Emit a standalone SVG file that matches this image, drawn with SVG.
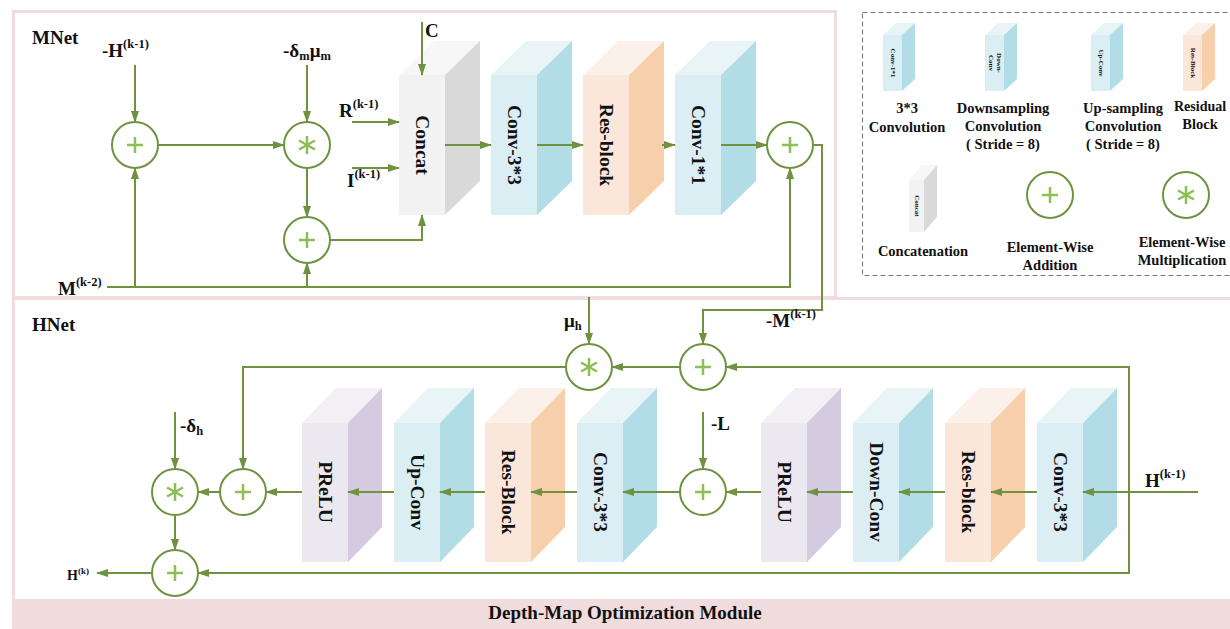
<svg xmlns="http://www.w3.org/2000/svg" width="1230" height="629" viewBox="0 0 1230 629">
<style>
text{font-family:"Liberation Serif","Times New Roman",serif;font-weight:bold;fill:#111}
.lbl{font-size:19px}
.sup{font-size:12.5px}
.blk{font-size:19.5px}
.leg{font-size:14.5px}
.tiny{font-size:7px}
.ln{fill:none;stroke:#6e9240;stroke-width:2}
.arr{marker-end:url(#ah)}
.cir{fill:#fff;stroke:#6e9240;stroke-width:2}
.sym{stroke:#8dbf55;stroke-width:2.5;fill:none}
.cf{fill:#daeef4}.cs{fill:#b2dce6}.ct{fill:#e9f4f7}
.rf{fill:#fbe6da}.rs{fill:#f7cfab}.rt{fill:#fcf0ea}
.gf{fill:#f2f2f2}.gs{fill:#d9d9d9}.gt{fill:#f7f7f7}
.pf{fill:#ebe8f0}.ps{fill:#d4cbe0}.pt{fill:#f2f0f5}
</style>
<defs>
<marker id="ah" markerWidth="12" markerHeight="10" refX="11" refY="5" orient="auto" markerUnits="userSpaceOnUse">
<path d="M0,1 L12,5 L0,9 z" fill="#6e9240"/>
</marker>
<g id="plus"><line class="sym" x1="-8" y1="0" x2="8" y2="0"/><line class="sym" x1="0" y1="-8" x2="0" y2="8"/></g>
<g id="star"><line class="sym" x1="0" y1="-9" x2="0" y2="9" stroke-width="3"/><line class="sym" x1="-8" y1="-4.5" x2="8" y2="4.5" stroke-width="3"/><line class="sym" x1="-8" y1="4.5" x2="8" y2="-4.5" stroke-width="3"/></g>
</defs>
<rect width="1230" height="629" fill="#fff"/>

<g id="frames">
<rect x="13.5" y="11.5" width="822" height="286" fill="none" stroke="#f0dcdc" stroke-width="3"/>
<rect x="13.5" y="298.5" width="1220" height="302" fill="none" stroke="#f0dcdc" stroke-width="3"/>
<rect x="12" y="600" width="1218" height="29" fill="#f0dcdc"/>
<text x="625" y="619" text-anchor="middle" class="lbl">Depth-Map Optimization Module</text>
<rect x="862.5" y="12.5" width="380" height="263" fill="none" stroke="#777" stroke-width="1" stroke-dasharray="5,3"/>
<text x="32" y="44" class="lbl">MNet</text>
<text x="32" y="331" class="lbl">HNet</text>
</g>

<g id="m-concat">
<polygon class="gt" points="399,75 434,41 480,41 445,75"/><polygon class="gs" points="445,75 480,41 480,181 445,215"/><rect class="gf" x="399" y="75" width="46" height="140"/>
<text class="blk" transform="translate(422,145) rotate(90)" text-anchor="middle" dominant-baseline="central">Concat</text>
</g>
<g id="m-conv33">
<polygon class="ct" points="491,75 526,41 572,41 537,75"/><polygon class="cs" points="537,75 572,41 572,181 537,215"/><rect class="cf" x="491" y="75" width="46" height="140"/>
<text class="blk" transform="translate(514,145) rotate(90)" text-anchor="middle" dominant-baseline="central">Conv-3*3</text>
</g>
<g id="m-res">
<polygon class="rt" points="583,75 618,41 664,41 629,75"/><polygon class="rs" points="629,75 664,41 664,181 629,215"/><rect class="rf" x="583" y="75" width="46" height="140"/>
<text class="blk" transform="translate(606,145) rotate(90)" text-anchor="middle" dominant-baseline="central">Res-block</text>
</g>
<g id="m-conv11">
<polygon class="ct" points="675,75 710,41 756,41 721,75"/><polygon class="cs" points="721,75 756,41 756,181 721,215"/><rect class="cf" x="675" y="75" width="46" height="140"/>
<text class="blk" transform="translate(698,145) rotate(90)" text-anchor="middle" dominant-baseline="central">Conv-1*1</text>
</g>

<g id="h-prelu1">
<polygon class="pt" points="302,423 336,388 382,388 348,423"/><polygon class="ps" points="348,423 382,388 382,527 348,562"/><rect class="pf" x="302" y="423" width="46" height="139"/>
<text class="blk" transform="translate(325,492) rotate(90)" text-anchor="middle" dominant-baseline="central">PReLU</text>
</g>
<g id="h-upconv">
<polygon class="ct" points="394,423 428,388 474,388 440,423"/><polygon class="cs" points="440,423 474,388 474,527 440,562"/><rect class="cf" x="394" y="423" width="46" height="139"/>
<text class="blk" transform="translate(417,492) rotate(90)" text-anchor="middle" dominant-baseline="central">Up-Conv</text>
</g>
<g id="h-res1">
<polygon class="rt" points="485,423 519,388 565,388 531,423"/><polygon class="rs" points="531,423 565,388 565,527 531,562"/><rect class="rf" x="485" y="423" width="46" height="139"/>
<text class="blk" transform="translate(508,492) rotate(90)" text-anchor="middle" dominant-baseline="central">Res-Block</text>
</g>
<g id="h-conv1">
<polygon class="ct" points="577,423 611,388 657,388 623,423"/><polygon class="cs" points="623,423 657,388 657,527 623,562"/><rect class="cf" x="577" y="423" width="46" height="139"/>
<text class="blk" transform="translate(600,492) rotate(90)" text-anchor="middle" dominant-baseline="central">Conv-3*3</text>
</g>
<g id="h-prelu2">
<polygon class="pt" points="761,423 795,388 841,388 807,423"/><polygon class="ps" points="807,423 841,388 841,527 807,562"/><rect class="pf" x="761" y="423" width="46" height="139"/>
<text class="blk" transform="translate(784,492) rotate(90)" text-anchor="middle" dominant-baseline="central">PReLU</text>
</g>
<g id="h-downconv">
<polygon class="ct" points="853,423 887,388 933,388 899,423"/><polygon class="cs" points="899,423 933,388 933,527 899,562"/><rect class="cf" x="853" y="423" width="46" height="139"/>
<text class="blk" transform="translate(876,492) rotate(90)" text-anchor="middle" dominant-baseline="central">Down-Conv</text>
</g>
<g id="h-res2">
<polygon class="rt" points="945,423 979,388 1025,388 991,423"/><polygon class="rs" points="991,423 1025,388 1025,527 991,562"/><rect class="rf" x="945" y="423" width="46" height="139"/>
<text class="blk" transform="translate(968,492) rotate(90)" text-anchor="middle" dominant-baseline="central">Res-block</text>
</g>
<g id="h-conv2">
<polygon class="ct" points="1037,423 1071,388 1117,388 1083,423"/><polygon class="cs" points="1083,423 1117,388 1117,527 1083,562"/><rect class="cf" x="1037" y="423" width="46" height="139"/>
<text class="blk" transform="translate(1060,492) rotate(90)" text-anchor="middle" dominant-baseline="central">Conv-3*3</text>
</g>

<g id="connectors">
<line class="ln arr" x1="135" y1="65" x2="135" y2="122"/>
<line class="ln arr" x1="158" y1="145" x2="284" y2="145"/>
<line class="ln arr" x1="307" y1="65" x2="307" y2="122"/>
<line class="ln arr" x1="307" y1="168" x2="307" y2="217"/>
<path class="ln arr" d="M107,287 H790 V168"/>
<line class="ln arr" x1="135" y1="287" x2="135" y2="168"/>
<line class="ln arr" x1="307" y1="287" x2="307" y2="263"/>
<path class="ln arr" d="M330,240 H422 V215"/>
<line class="ln arr" x1="352" y1="122" x2="399" y2="122"/>
<line class="ln arr" x1="352" y1="168" x2="399" y2="168"/>
<line class="ln arr" x1="422" y1="22" x2="422" y2="75"/>
<line class="ln arr" x1="445" y1="145" x2="491" y2="145"/>
<line class="ln arr" x1="537" y1="145" x2="583" y2="145"/>
<line class="ln arr" x1="662" y1="145" x2="675" y2="145"/>
<line class="ln arr" x1="721" y1="145" x2="767" y2="145"/>
<path class="ln arr" d="M813,145 H822 V310 H703 V344"/>
<line class="ln arr" x1="589" y1="297" x2="589" y2="344"/>
<line class="ln arr" x1="680" y1="367" x2="612" y2="367"/>
<path class="ln arr" d="M566,367 H243 V469"/>
<line class="ln arr" x1="1198" y1="492" x2="1083" y2="492"/>
<path class="ln arr" d="M1129,492 V367 H726"/>
<path class="ln arr" d="M1129,492 V573 H198"/>
<line class="ln arr" x1="1037" y1="492" x2="991" y2="492"/>
<line class="ln arr" x1="945" y1="492" x2="899" y2="492"/>
<line class="ln arr" x1="853" y1="492" x2="807" y2="492"/>
<line class="ln arr" x1="761" y1="492" x2="726" y2="492"/>
<line class="ln arr" x1="680" y1="492" x2="623" y2="492"/>
<line class="ln arr" x1="577" y1="492" x2="531" y2="492"/>
<line class="ln arr" x1="485" y1="492" x2="440" y2="492"/>
<line class="ln arr" x1="394" y1="492" x2="348" y2="492"/>
<line class="ln arr" x1="302" y1="492" x2="266" y2="492"/>
<line class="ln arr" x1="220" y1="492" x2="198" y2="492"/>
<line class="ln arr" x1="703" y1="412" x2="703" y2="469"/>
<line class="ln arr" x1="175" y1="412" x2="175" y2="469"/>
<line class="ln arr" x1="175" y1="515" x2="175" y2="550"/>
<line class="ln arr" x1="152" y1="573" x2="97" y2="573"/>
</g>

<g id="m-add1"><circle class="cir" cx="135" cy="145" r="23"/><use href="#plus" x="135" y="145"/></g>
<g id="m-mul"><circle class="cir" cx="307" cy="145" r="23"/><use href="#star" x="307" y="145"/></g>
<g id="m-add2"><circle class="cir" cx="307" cy="240" r="23"/><use href="#plus" x="307" y="240"/></g>
<g id="m-add3"><circle class="cir" cx="790" cy="145" r="23"/><use href="#plus" x="790" y="145"/></g>
<g id="h-mul1"><circle class="cir" cx="589" cy="367" r="23"/><use href="#star" x="589" y="367"/></g>
<g id="h-add1"><circle class="cir" cx="703" cy="367" r="23"/><use href="#plus" x="703" y="367"/></g>
<g id="h-add2"><circle class="cir" cx="703" cy="492" r="23"/><use href="#plus" x="703" y="492"/></g>
<g id="h-add3"><circle class="cir" cx="243" cy="492" r="23"/><use href="#plus" x="243" y="492"/></g>
<g id="h-mul2"><circle class="cir" cx="175" cy="492" r="23"/><use href="#star" x="175" y="492"/></g>
<g id="h-add4"><circle class="cir" cx="175" cy="573" r="23"/><use href="#plus" x="175" y="573"/></g>

<g id="labels">
<text x="102" y="57" class="lbl">-H<tspan class="sup" dy="-9">(k-1)</tspan></text>
<text x="283" y="57" class="lbl">-δ<tspan class="sup" dy="3">m</tspan><tspan dy="-3">μ</tspan><tspan class="sup" dy="3">m</tspan></text>
<text x="339" y="117" class="lbl">R<tspan class="sup" dy="-9">(k-1)</tspan></text>
<text x="347" y="187" class="lbl">I<tspan class="sup" dy="-9">(k-1)</tspan></text>
<text x="425" y="37" class="lbl">C</text>
<text x="58" y="295" class="lbl">M<tspan class="sup" dy="-9">(k-2)</tspan></text>
<text x="564" y="327" class="lbl">μ<tspan class="sup" dy="3">h</tspan></text>
<text x="766" y="327" class="lbl">-M<tspan class="sup" dy="-9">(k-1)</tspan></text>
<text x="711" y="430" class="lbl">-L</text>
<text x="180" y="432" class="lbl" font-size="17">-δ<tspan class="sup" dy="3">h</tspan></text>
<text x="1145" y="487" class="lbl">H<tspan class="sup" dy="-9">(k-1)</tspan></text>
<text x="67" y="580" style="font-size:14px">H<tspan style="font-size:9px" dy="-6">(k)</tspan></text>
</g>

<g id="legend">
<g id="lg-conv11">
<polygon class="ct" points="883,35 896,23 915,23 902,35"/><polygon class="cs" points="902,35 915,23 915,79 902,91"/><rect class="cf" x="883" y="35" width="19" height="56"/>
<text class="tiny" transform="translate(892.5,63) rotate(90)" text-anchor="middle" dominant-baseline="central">Conv-1*1</text>
<text class="leg" x="907" y="113" text-anchor="middle">3*3</text>
<text class="leg" x="907" y="132" text-anchor="middle">Convolution</text>
</g>
<g id="lg-down">
<polygon class="ct" points="985,35 998,23 1017,23 1004,35"/><polygon class="cs" points="1004,35 1017,23 1017,79 1004,91"/><rect class="cf" x="985" y="35" width="19" height="56"/>
<text class="tiny" transform="translate(994.5,63) rotate(90)" text-anchor="middle"><tspan x="0" y="-2">Down-</tspan><tspan x="0" y="6">Conv</tspan></text>
<text class="leg" x="1003" y="113" text-anchor="middle">Downsampling</text>
<text class="leg" x="1003" y="131" text-anchor="middle">Convolution</text>
<text class="leg" x="1003" y="149" text-anchor="middle">( Stride = 8)</text>
</g>
<g id="lg-up">
<polygon class="ct" points="1091,35 1104,23 1123,23 1110,35"/><polygon class="cs" points="1110,35 1123,23 1123,79 1110,91"/><rect class="cf" x="1091" y="35" width="19" height="56"/>
<text class="tiny" transform="translate(1100.5,63) rotate(90)" text-anchor="middle" dominant-baseline="central">Up-Conv</text>
<text class="leg" x="1123" y="113" text-anchor="middle">Up-sampling</text>
<text class="leg" x="1123" y="131" text-anchor="middle">Convolution</text>
<text class="leg" x="1123" y="149" text-anchor="middle">( Stride = 8)</text>
</g>
<g id="lg-res">
<polygon class="rt" points="1183,35 1196,23 1215,23 1202,35"/><polygon class="rs" points="1202,35 1215,23 1215,79 1202,91"/><rect class="rf" x="1183" y="35" width="19" height="56"/>
<text class="tiny" transform="translate(1192.5,63) rotate(90)" text-anchor="middle" dominant-baseline="central">Res-Block</text>
<text class="leg" x="1174" y="111" style="font-size:14px">Residual</text>
<text class="leg" x="1200" y="129" text-anchor="middle">Block</text>
</g>
<g id="lg-concat">
<polygon class="gt" points="909,180 922,165 937,165 924,180"/><polygon class="gs" points="924,180 937,165 937,217 924,232"/><rect class="gf" x="909" y="180" width="15" height="52"/>
<text class="tiny" transform="translate(916.5,206) rotate(90)" text-anchor="middle" dominant-baseline="central">Concat</text>
<text class="leg" x="923" y="256" text-anchor="middle">Concatenation</text>
</g>
<g id="lg-add">
<circle class="cir" cx="1050" cy="195" r="23"/><use href="#plus" x="1050" y="195"/>
<text class="leg" x="1050" y="252" text-anchor="middle">Element-Wise</text>
<text class="leg" x="1050" y="270" text-anchor="middle">Addition</text>
</g>
<g id="lg-mul">
<circle class="cir" cx="1186" cy="195" r="23"/><use href="#star" x="1186" y="195"/>
<text class="leg" x="1182" y="247" text-anchor="middle">Element-Wise</text>
<text class="leg" x="1182" y="265" text-anchor="middle">Multiplication</text>
</g>
</g>
</svg>
